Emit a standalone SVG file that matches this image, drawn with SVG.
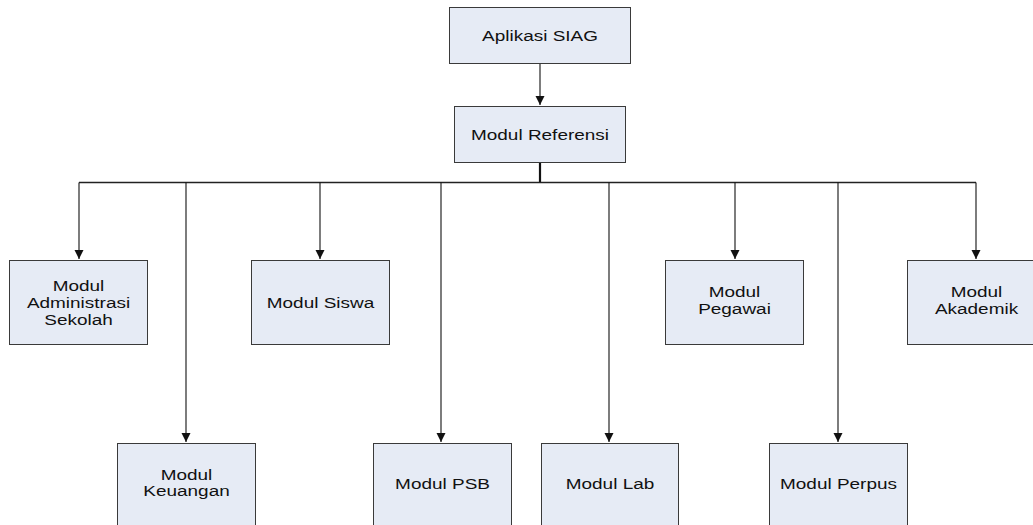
<svg xmlns="http://www.w3.org/2000/svg" width="1033" height="525" viewBox="0 0 1033 525">
<style>
.box{fill:#E6EBF5;stroke:#3a3a3a;stroke-width:1}
.t{font-family:"Liberation Sans",Arial,sans-serif;font-size:15.3px;fill:#111;text-anchor:middle}
.c{fill:none;stroke:#111;stroke-width:1.1}
</style>
<defs>
<marker id="ah" markerWidth="10" markerHeight="10" refX="9" refY="5" orient="auto" markerUnits="userSpaceOnUse"><path d="M0,0.5 L9,5 L0,9.5 Z" fill="#111"/></marker>
</defs>
<rect width="1033" height="525" fill="#fff"/>
<g id="connectors">
<line class="c" x1="540" y1="63" x2="540" y2="105" marker-end="url(#ah)"/>
<line x1="540" y1="162" x2="540" y2="182.5" stroke="#111" stroke-width="2.2"/>
<line x1="79" y1="182.5" x2="976" y2="182.5" stroke="#222" stroke-width="1.6"/>
<line class="c" x1="79" y1="182.5" x2="79" y2="259" marker-end="url(#ah)"/>
<line class="c" x1="186" y1="182.5" x2="186" y2="442" marker-end="url(#ah)"/>
<line class="c" x1="320" y1="182.5" x2="320" y2="259" marker-end="url(#ah)"/>
<line class="c" x1="441" y1="182.5" x2="441" y2="442" marker-end="url(#ah)"/>
<line class="c" x1="609" y1="182.5" x2="609" y2="442" marker-end="url(#ah)"/>
<line class="c" x1="735" y1="182.5" x2="735" y2="259" marker-end="url(#ah)"/>
<line class="c" x1="838" y1="182.5" x2="838" y2="442" marker-end="url(#ah)"/>
<line class="c" x1="976" y1="182.5" x2="976" y2="259" marker-end="url(#ah)"/>
</g>
<g id="aplikasi"><rect class="box" x="449.5" y="7.5" width="181" height="56"/><text class="t" transform="translate(540,41) scale(1.24,1)">Aplikasi SIAG</text></g>
<g id="referensi"><rect class="box" x="454.5" y="106.5" width="171" height="56"/><text class="t" transform="translate(540,140) scale(1.24,1)">Modul Referensi</text></g>
<g id="admin"><rect class="box" x="9.5" y="260.5" width="138" height="84"/>
<text class="t" transform="translate(78.5,291) scale(1.24,1)">Modul</text>
<text class="t" transform="translate(78.5,308) scale(1.24,1)">Administrasi</text>
<text class="t" transform="translate(78.5,325) scale(1.24,1)">Sekolah</text></g>
<g id="siswa"><rect class="box" x="251.5" y="260.5" width="138" height="84"/><text class="t" transform="translate(320.5,307.5) scale(1.24,1)">Modul Siswa</text></g>
<g id="pegawai"><rect class="box" x="665.5" y="260.5" width="138" height="84"/>
<text class="t" transform="translate(734.5,297) scale(1.24,1)">Modul</text>
<text class="t" transform="translate(734.5,313.5) scale(1.24,1)">Pegawai</text></g>
<g id="akademik"><rect class="box" x="907.5" y="260.5" width="138" height="84"/>
<text class="t" transform="translate(976.5,297) scale(1.24,1)">Modul</text>
<text class="t" transform="translate(976.5,313.5) scale(1.24,1)">Akademik</text></g>
<g id="keuangan"><rect class="box" x="117.5" y="443.5" width="138" height="90"/>
<text class="t" transform="translate(186.5,480) scale(1.24,1)">Modul</text>
<text class="t" transform="translate(186.5,496) scale(1.24,1)">Keuangan</text></g>
<g id="psb"><rect class="box" x="373.5" y="443.5" width="138" height="90"/><text class="t" transform="translate(442.5,489) scale(1.24,1)">Modul PSB</text></g>
<g id="lab"><rect class="box" x="541.5" y="443.5" width="137" height="90"/><text class="t" transform="translate(610,489) scale(1.24,1)">Modul Lab</text></g>
<g id="perpus"><rect class="box" x="769.5" y="443.5" width="138" height="90"/><text class="t" transform="translate(838.5,489) scale(1.24,1)">Modul Perpus</text></g>
</svg>
